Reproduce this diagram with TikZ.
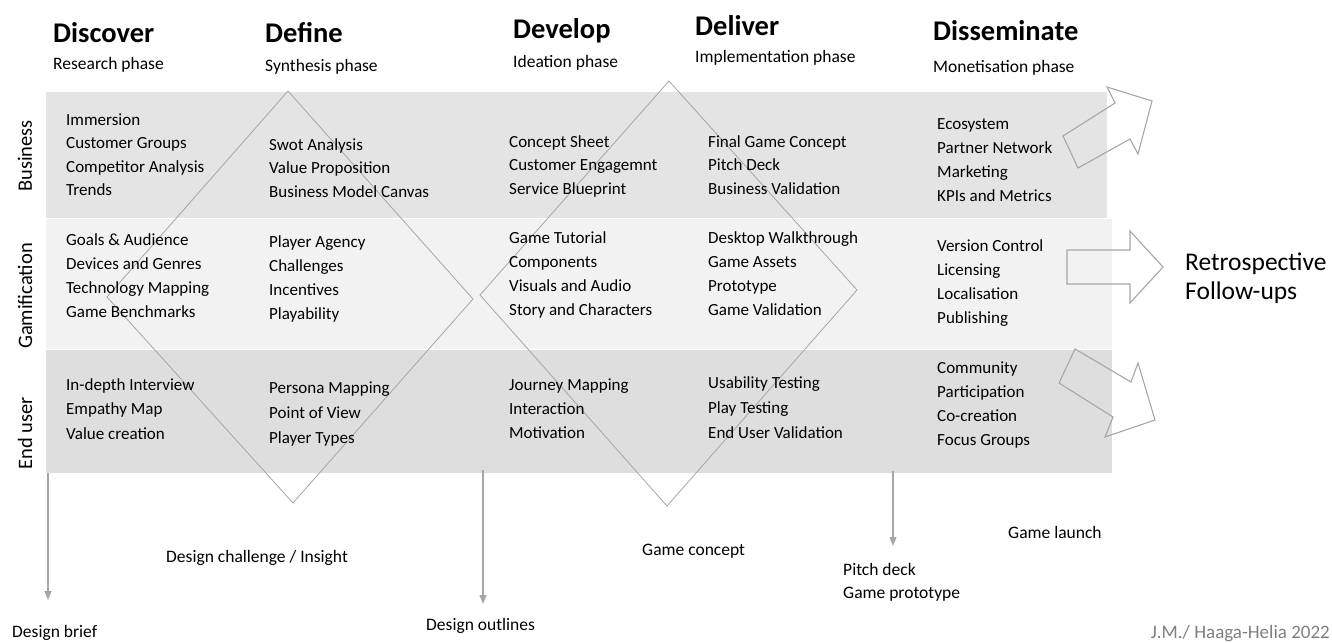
\documentclass[tikz,border=0pt]{standalone}
\usepackage{fontspec}
\setmainfont{Carlito}
\usetikzlibrary{arrows.meta}
\definecolor{bandA}{HTML}{E4E4E4}
\definecolor{bandB}{HTML}{F2F2F2}
\definecolor{bandC}{HTML}{DEDEDE}
\definecolor{lineG}{HTML}{A6A6A6}
\definecolor{credit}{HTML}{7F7F7F}
\tikzset{
  item/.style={font=\fontsize{17}{20}\selectfont, inner sep=0pt, anchor=base west, text=black},
  lbl/.style={font=\fontsize{17.5}{20}\selectfont, inner sep=0pt, anchor=base west, text=black},
  headtxt/.style={font=\fontsize{28.5}{32}\selectfont\bfseries, inner sep=0pt, anchor=base west},
  subtxt/.style={font=\fontsize{17.5}{20}\selectfont, inner sep=0pt, anchor=base west},
  rowlab/.style={font=\fontsize{20.5}{24}\selectfont, inner sep=0pt, rotate=90},
  retro/.style={font=\fontsize{25.5}{30}\selectfont, inner sep=0pt, anchor=base west},
  diam/.style={draw=lineG, line width=0.8pt},
  blockarrow/.style={draw=lineG, line width=1.1pt, line join=miter},
  conn/.style={draw=lineG, line width=1.2pt, -{Triangle[width=7pt,length=9pt]}}
}
\begin{document}
\begin{tikzpicture}[x=1pt,y=-1pt]
\useasboundingbox (0,0) rectangle (1332,642);
% bands
\fill[bandA] (46,92) rectangle (1107,218);
\fill[bandB] (46,219) rectangle (1112,349);
\fill[bandC] (46,350) rectangle (1112,473);
% diamonds
\draw[diam] (288,91) -- (473,299) -- (293,503) -- (107,297) -- cycle;
\draw[diam] (669,81) -- (857,290) -- (667,506) -- (480,295) -- cycle;
% block arrows
\draw[blockarrow] (1063,136) -- (1115,103) -- (1107,87) -- (1152,101) -- (1138,154) -- (1130,139) -- (1078,168) -- cycle;
\draw[blockarrow] (1067,250) -- (1130,250) -- (1130,231) -- (1163,267) -- (1130,303) -- (1130,284) -- (1067,284) -- cycle;
\draw[blockarrow] (1075,349) -- (1131,382) -- (1138,363) -- (1155,420) -- (1105,437) -- (1113,417) -- (1059,383) -- cycle;
% headers
\node[headtxt] (h1) at (53,42) {Discover};
\node[subtxt] (s1) at (53,70) {Research phase};
\node[headtxt] (h2) at (265,42) {Define};
\node[subtxt] (s2) at (265,71) {Synthesis phase};
\node[headtxt] (h3) at (513,38) {Develop};
\node[subtxt] (s3) at (513,67) {Ideation phase};
\node[headtxt] (h4) at (695,36) {Deliver};
\node[subtxt] (s4) at (695,63) {Implementation phase};
\node[headtxt] (h5) at (933,41) {Disseminate};
\node[subtxt] (s5) at (933,73) {Monetisation phase};
% row labels
\node[rowlab] (r1) at (25,156) {Business};
\node[rowlab] (r2) at (25,296) {Gamification};
\node[rowlab] (r3) at (25,433) {End user};
% Business row
\foreach \t [count=\i] in {Immersion, Customer Groups, Competitor Analysis, Trends}
  \node[item] (b1-\i) at (66,{125+23.5*(\i-1)}) {\t};
\foreach \t [count=\i] in {Swot Analysis, Value Proposition, Business Model Canvas}
  \node[item] (b2-\i) at (269,{150+23.5*(\i-1)}) {\t};
\foreach \t [count=\i] in {Concept Sheet, Customer Engagemnt, Service Blueprint}
  \node[item] (b3-\i) at (509,{147+23.5*(\i-1)}) {\t};
\foreach \t [count=\i] in {Final Game Concept, Pitch Deck, Business Validation}
  \node[item] (b4-\i) at (708,{147+23.5*(\i-1)}) {\t};
\foreach \t [count=\i] in {Ecosystem, Partner Network, Marketing, KPIs and Metrics}
  \node[item] (b5-\i) at (937,{129+24*(\i-1)}) {\t};
% Gamification row
\foreach \t [count=\i] in {Goals \& Audience, Devices and Genres, Technology Mapping, Game Benchmarks}
  \node[item] (g1-\i) at (66,{245+24*(\i-1)}) {\t};
\foreach \t [count=\i] in {Player Agency, Challenges, Incentives, Playability}
  \node[item] (g2-\i) at (269,{247+24.3*(\i-1)}) {\t};
\foreach \t [count=\i] in {Game Tutorial, Components, Visuals and Audio, Story and Characters}
  \node[item] (g3-\i) at (509,{243+24.3*(\i-1)}) {\t};
\foreach \t [count=\i] in {Desktop Walkthrough, Game Assets, Prototype, Game Validation}
  \node[item] (g4-\i) at (708,{243+24.3*(\i-1)}) {\t};
\foreach \t [count=\i] in {Version Control, Licensing, Localisation, Publishing}
  \node[item] (g5-\i) at (937,{251+24.2*(\i-1)}) {\t};
% End user row
\foreach \t [count=\i] in {In-depth Interview, Empathy Map, Value creation}
  \node[item] (e1-\i) at (66,{390+24.5*(\i-1)}) {\t};
\foreach \t [count=\i] in {Persona Mapping, Point of View, Player Types}
  \node[item] (e2-\i) at (269,{393+25*(\i-1)}) {\t};
\foreach \t [count=\i] in {Journey Mapping, Interaction, Motivation}
  \node[item] (e3-\i) at (509,{390+24*(\i-1)}) {\t};
\foreach \t [count=\i] in {Usability Testing, Play Testing, End User Validation}
  \node[item] (e4-\i) at (708,{388+25*(\i-1)}) {\t};
\foreach \t [count=\i] in {Community, Participation, Co-creation, Focus Groups}
  \node[item] (e5-\i) at (937,{373+24.3*(\i-1)}) {\t};
% retrospective
\node[retro] (rt1) at (1185,270) {Retrospective};
\node[retro] (rt2) at (1185,299) {Follow-ups};
% bottom arrows and labels
\coordinate (a1s) at (48,473);
\coordinate (a1e) at (48,600);
\coordinate (a2s) at (483,470);
\coordinate (a2e) at (483,604);
\coordinate (a3s) at (893,471);
\coordinate (a3e) at (893,546);
\draw[conn] (a1s) -- (a1e);
\draw[conn] (a2s) -- (a2e);
\draw[conn] (a3s) -- (a3e);
\node[lbl] (l1) at (12,637) {Design brief};
\node[lbl] (l2) at (166,562) {Design challenge / Insight};
\node[lbl] (l3) at (426,630) {Design outlines};
\node[lbl] (l4) at (642,555) {Game concept};
\node[lbl] (l5) at (843,575) {Pitch deck};
\node[lbl] (l6) at (843,598) {Game prototype};
\node[lbl] (l7) at (1008,538) {Game launch};
\node[font=\fontsize{19}{22}\selectfont, text=credit, inner sep=0pt, anchor=base east] (cr) at (1330,638) {J.M./ Haaga-Helia 2022};
\end{tikzpicture}
\end{document}
